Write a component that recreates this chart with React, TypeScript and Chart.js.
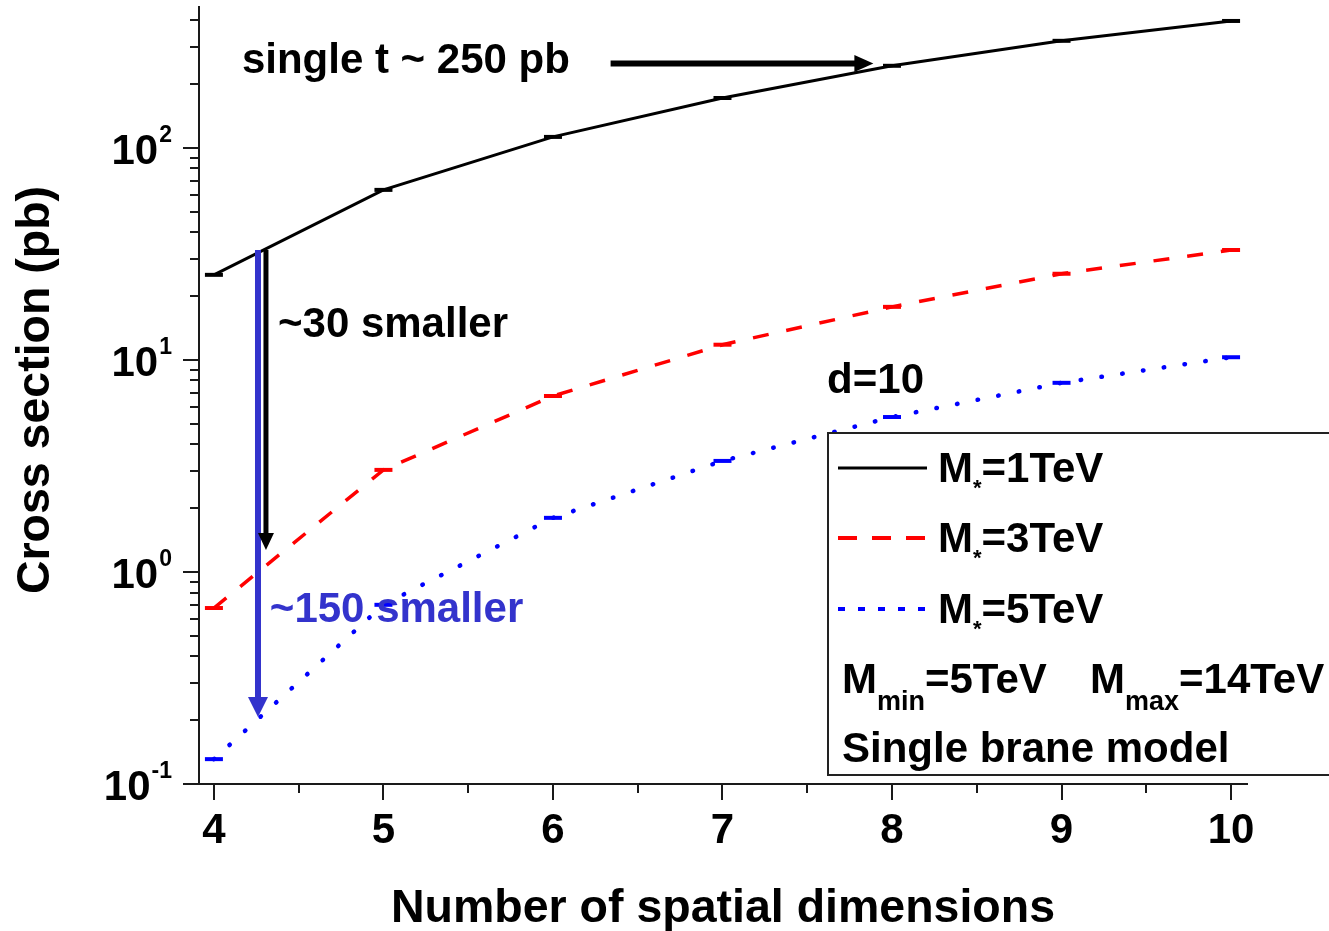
import React, { useEffect, useRef } from 'react';
import { Chart, registerables } from 'chart.js';

Chart.register(...registerables);

// ---------------- data ----------------
const dimensions = [4, 5, 6, 7, 8, 9, 10];
const xsec1TeV = [25.2, 63.4, 112.7, 172, 244, 320, 397];
const xsec3TeV = [0.676, 3.03, 6.76, 11.8, 17.8, 25.5, 33.0];
const xsec5TeV = [0.131, 0.7, 1.8, 3.34, 5.38, 7.8, 10.3];
const seriesMasses = ['1TeV', '3TeV', '5TeV'];

const xTickValues = [4, 5, 6, 7, 8, 9, 10];
const xTickLabels = ['4', '5', '6', '7', '8', '9', '10'];
const xMinorTickValues = [4.5, 5.5, 6.5, 7.5, 8.5, 9.5];
const yTickExponents = [-1, 0, 1, 2];
const yTickExponentLabels = ['-1', '0', '1', '2'];
const yMinorMantissas = [2, 3, 4, 5, 6, 7, 8, 9];

const X_MIN = 3.912;
const X_MAX = 10.094;
const Y_MIN = 0.1;
const Y_MAX = 462;

// annotations (data coordinates)
const singleTopArrow = { x1: 6.34, x2: 7.89, y: 250 };
const arrow30 = { x: 4.307, y1: 33, y2: 1.27 };
const arrow150 = { x: 4.26, y1: 33, y2: 0.207 };
const annotationTexts = [
  { text: 'single t ~ 250 pb', x: 4.165, y: 226, color: '#000000' },
  { text: '~30 smaller', x: 4.378, y: 12.8, color: '#000000' },
  { text: '~150 smaller', x: 4.33, y: 0.58, color: '#3333cc' },
  { text: 'd=10', x: 7.617, y: 6.98, color: '#000000' },
];

const X_TITLE = 'Number of spatial dimensions';
const Y_TITLE = 'Cross section (pb)';

// ---------------- styles ----------------
const FAMILY = '"Liberation Sans", Arial, Helvetica, sans-serif';
const bold = (s: number) => `bold ${s}px ${FAMILY}`;
const BLACK = '#000000';
const RED = '#ff0000';
const BLUE = '#0000ff';
const ANNOT_BLUE = '#3333cc';
const AXIS = '#1a1a1a';

function arrow(ctx: CanvasRenderingContext2D, x1: number, y1: number, x2: number, y2: number,
  width: number, headLen: number, headHalf: number, color: string) {
  const dx = x2 - x1, dy = y2 - y1;
  const len = Math.hypot(dx, dy);
  const ux = dx / len, uy = dy / len;
  const bx = x2 - ux * headLen, by = y2 - uy * headLen;
  ctx.save();
  ctx.strokeStyle = color;
  ctx.fillStyle = color;
  ctx.lineWidth = width;
  ctx.lineCap = 'butt';
  ctx.setLineDash([]);
  ctx.beginPath();
  ctx.moveTo(x1, y1);
  ctx.lineTo(bx + ux, by + uy);
  ctx.stroke();
  ctx.beginPath();
  ctx.moveTo(x2, y2);
  ctx.lineTo(bx - uy * headHalf, by + ux * headHalf);
  ctx.lineTo(bx + uy * headHalf, by - ux * headHalf);
  ctx.closePath();
  ctx.fill();
  ctx.restore();
}

const overlayPlugin = {
  id: 'overlay',
  afterDraw(chart: any) {
    const ctx: CanvasRenderingContext2D = chart.ctx;
    const xs = chart.scales.x;
    const ys = chart.scales.y;
    const { left, right, bottom } = chart.chartArea;
    ctx.save();

    // ---- tick marks ----
    ctx.strokeStyle = AXIS;
    ctx.lineWidth = 2;
    ctx.setLineDash([]);
    const seg = (a: number, b: number, c: number, d: number) => {
      ctx.beginPath(); ctx.moveTo(a, b); ctx.lineTo(c, d); ctx.stroke();
    };
    xTickValues.forEach((v) => {
      const px = Math.round(xs.getPixelForValue(v));
      seg(px, bottom, px, bottom + 16);
    });
    xMinorTickValues.forEach((v) => {
      const px = Math.round(xs.getPixelForValue(v));
      seg(px, bottom, px, bottom + 9);
    });
    yTickExponents.forEach((e) => {
      const py = Math.round(ys.getPixelForValue(Math.pow(10, e)));
      seg(left - 16, py, left, py);
      yMinorMantissas.forEach((m) => {
        const v = m * Math.pow(10, e);
        if (v > Y_MAX) return;
        const pm = Math.round(ys.getPixelForValue(v));
        seg(left - 9, pm, left, pm);
      });
    });

    // ---- tick labels ----
    ctx.fillStyle = BLACK;
    ctx.textBaseline = 'alphabetic';
    ctx.font = bold(42);
    ctx.textAlign = 'center';
    xTickValues.forEach((v, i) => {
      ctx.fillText(xTickLabels[i], xs.getPixelForValue(v), bottom + 59);
    });
    yTickExponents.forEach((e, i) => {
      const py = ys.getPixelForValue(Math.pow(10, e));
      ctx.font = bold(23);
      const ew = ctx.measureText(yTickExponentLabels[i]).width;
      const ex = 172 - ew;
      ctx.textAlign = 'left';
      ctx.fillText(yTickExponentLabels[i], ex, py - 6);
      ctx.font = bold(42);
      ctx.textAlign = 'right';
      ctx.fillText('10', ex - 1, py + 16);
    });

    // ---- axis titles ----
    ctx.font = bold(46.5);
    ctx.textAlign = 'center';
    ctx.fillText(X_TITLE, (left + right) / 2, 922);
    ctx.save();
    ctx.translate(49, 390);
    ctx.rotate(-Math.PI / 2);
    ctx.fillText(Y_TITLE, 0, 0);
    ctx.restore();

    // ---- annotations ----
    arrow(ctx, xs.getPixelForValue(singleTopArrow.x1), ys.getPixelForValue(singleTopArrow.y),
      xs.getPixelForValue(singleTopArrow.x2), ys.getPixelForValue(singleTopArrow.y), 6, 19, 8.5, BLACK);
    arrow(ctx, xs.getPixelForValue(arrow150.x), ys.getPixelForValue(arrow150.y1),
      xs.getPixelForValue(arrow150.x), ys.getPixelForValue(arrow150.y2), 6, 20, 10, ANNOT_BLUE);
    arrow(ctx, xs.getPixelForValue(arrow30.x), ys.getPixelForValue(arrow30.y1),
      xs.getPixelForValue(arrow30.x), ys.getPixelForValue(arrow30.y2), 5, 17, 8, BLACK);

    ctx.textAlign = 'left';
    ctx.font = bold(42);
    annotationTexts.forEach((a) => {
      ctx.fillStyle = a.color;
      ctx.fillText(a.text, xs.getPixelForValue(a.x), ys.getPixelForValue(a.y));
    });

    // ---- legend box ----
    const bx = 828, by = 433, bb = 775;
    ctx.fillStyle = '#ffffff';
    ctx.fillRect(bx, by, 1340 - bx, bb - by);
    ctx.strokeStyle = '#222222';
    ctx.lineWidth = 2;
    ctx.strokeRect(bx, by, 1340 - bx, bb - by);

    const samples = [
      { color: BLACK, dash: [] as number[], width: 3, y: 468 },
      { color: RED, dash: [19, 15], width: 4, y: 538 },
      { color: BLUE, dash: [7, 13], width: 4, y: 609 },
    ];
    samples.forEach((s, i) => {
      ctx.strokeStyle = s.color;
      ctx.lineWidth = s.width;
      ctx.lineCap = 'butt';
      ctx.setLineDash(s.dash);
      seg(838, s.y, 927, s.y);
      ctx.setLineDash([]);
      const base = s.y + 14;
      ctx.fillStyle = BLACK;
      ctx.font = bold(42);
      ctx.fillText('M', 938, base);
      let x = 938 + ctx.measureText('M').width;
      ctx.font = bold(22);
      ctx.fillText('*', x, base + 13);
      x += ctx.measureText('*').width;
      ctx.font = bold(42);
      ctx.fillText('=' + seriesMasses[i], x, base);
    });

    // M_min / M_max line
    const pieces: [string, number, number][] = [
      ['M', 42, 0], ['min', 27, 17], ['=5TeV', 42, 0],
    ];
    let px = 842;
    pieces.forEach(([t, sz, dy]) => {
      ctx.font = bold(sz); ctx.fillText(t, px, 693 + dy); px += ctx.measureText(t).width;
    });
    px = 1090;
    const pieces2: [string, number, number][] = [
      ['M', 42, 0], ['max', 27, 17], ['=14TeV', 42, 0],
    ];
    pieces2.forEach(([t, sz, dy]) => {
      ctx.font = bold(sz); ctx.fillText(t, px, 693 + dy); px += ctx.measureText(t).width;
    });
    ctx.font = bold(42);
    ctx.fillText('Single brane model', 842, 762);

    ctx.restore();
  },
};

export default function App() {
  const ref = useRef<HTMLCanvasElement>(null);
  useEffect(() => {
    const canvas = ref.current;
    if (!canvas) return;
    const pts = (arr: number[]) => dimensions.map((d, i) => ({ x: d, y: arr[i] }));
    const chart = new Chart(canvas, {
      type: 'line',
      data: {
        datasets: [
          {
            label: 'M*=' + seriesMasses[0], data: pts(xsec1TeV),
            borderColor: BLACK, borderWidth: 3, tension: 0,
            pointStyle: 'line', pointRadius: 9, pointBorderWidth: 4, pointBorderColor: BLACK,
          },
          {
            label: 'M*=' + seriesMasses[1], data: pts(xsec3TeV),
            borderColor: RED, borderWidth: 3.5, borderDash: [16, 18], tension: 0,
            pointStyle: 'line', pointRadius: 9, pointBorderWidth: 4, pointBorderColor: RED,
          },
          {
            label: 'M*=' + seriesMasses[2], data: pts(xsec5TeV),
            borderColor: BLUE, borderWidth: 4.5, borderDash: [0.5, 20.5], borderCapStyle: 'round', tension: 0,
            pointStyle: 'line', pointRadius: 9, pointBorderWidth: 4, pointBorderColor: BLUE,
          },
        ],
      } as any,
      options: {
        animation: false,
        responsive: false,
        layout: { autoPadding: false, padding: { left: 0, top: 7, right: 82, bottom: 0 } },
        plugins: { legend: { display: false }, tooltip: { enabled: false } },
        scales: {
          x: {
            type: 'linear', min: X_MIN, max: X_MAX,
            grid: { display: false },
            border: { display: true, color: AXIS, width: 2 },
            ticks: { display: false },
            afterFit: (s: any) => { s.height = 147; },
          },
          y: {
            type: 'logarithmic', min: Y_MIN, max: Y_MAX,
            grid: { display: false },
            border: { display: true, color: AXIS, width: 2 },
            ticks: { display: false },
            afterFit: (s: any) => { s.width = 199; },
          },
        },
      } as any,
      plugins: [overlayPlugin],
    });
    return () => chart.destroy();
  }, []);
  return (
    <div style={{ position: 'absolute', left: 0, top: 0, width: 1329, height: 931, background: '#ffffff' }}>
      <canvas ref={ref} width={1329} height={931} style={{ display: 'block' }} />
    </div>
  );
}
